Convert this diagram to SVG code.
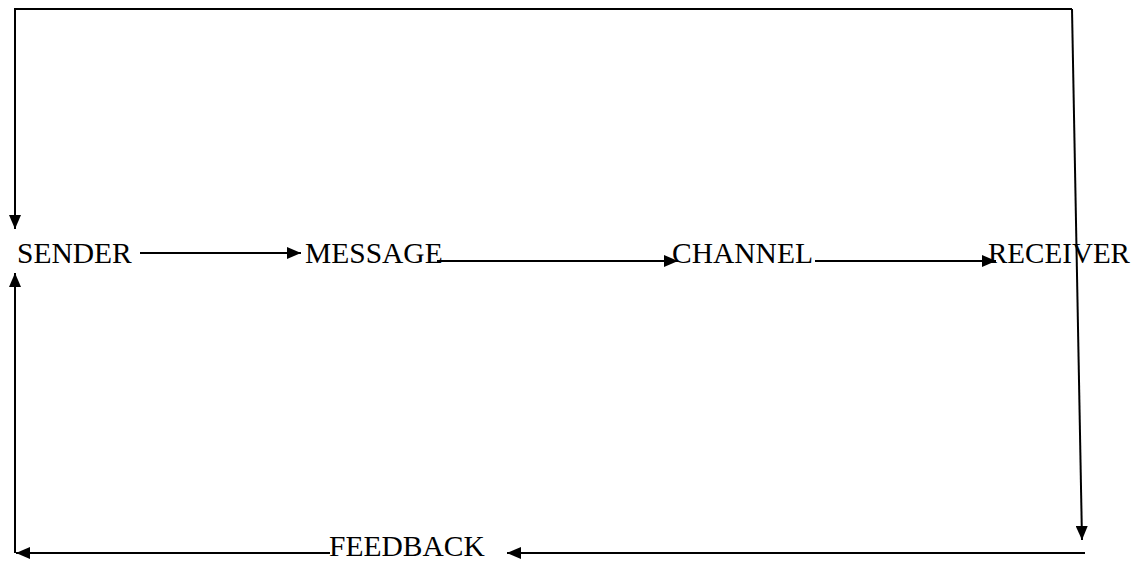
<svg xmlns="http://www.w3.org/2000/svg" width="1135" height="563" viewBox="0 0 1135 563">
<style>
.lbl{font-family:"Liberation Serif","Times New Roman",serif;font-size:29.5px;fill:#000}
.c{stroke:#000;stroke-width:2;fill:none;marker-end:url(#ah)}
</style>
<defs>
<marker id="ah" markerUnits="userSpaceOnUse" markerWidth="14" markerHeight="12" refX="14" refY="6" orient="auto">
<path d="M0,0 L14,6 L0,12 z" fill="#000"/>
</marker>
</defs>
<rect width="1135" height="563" fill="#fff"/>
<g id="connectors">
<polyline class="c" points="1072,9 15,9 15,229"/>
<line class="c" x1="1072" y1="9" x2="1082" y2="540"/>
<line class="c" x1="140" y1="253" x2="301" y2="253"/>
<line class="c" x1="437" y1="261" x2="678" y2="261"/>
<line class="c" x1="815" y1="261" x2="996" y2="261"/>
<line class="c" x1="1085" y1="553" x2="507" y2="553"/>
<line class="c" x1="330" y1="553" x2="16" y2="553"/>
<line class="c" x1="15" y1="553" x2="15" y2="273"/>
</g>
<g id="sender"><text class="lbl" x="17" y="263">SENDER</text></g>
<g id="message"><text class="lbl" x="305" y="263">MESSAGE</text></g>
<g id="channel"><text class="lbl" x="672" y="263">CHANNEL</text></g>
<g id="receiver"><text class="lbl" x="988" y="263" textLength="142" lengthAdjust="spacingAndGlyphs">RECEIVER</text></g>
<g id="feedback"><text class="lbl" x="329" y="556">FEEDBACK</text></g>
</svg>
